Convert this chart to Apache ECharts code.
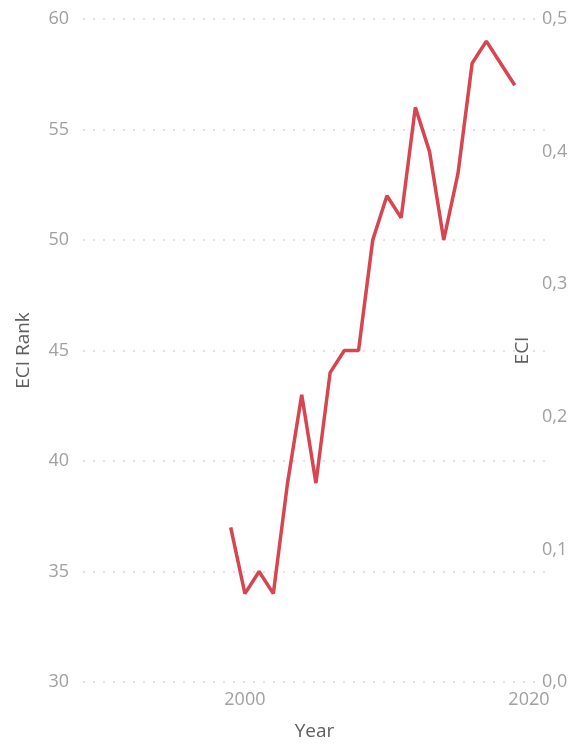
<!DOCTYPE html>
<html>
<head>
<meta charset="utf-8">
<script src="https://cdn.jsdelivr.net/npm/echarts@6/dist/echarts.min.js"></script>
<style>html,body{margin:0;padding:0;background:#fff;}#c{width:574px;height:744px;}</style>
</head>
<body>
<div id="c"></div>
<script>
var years = [1999, 2000, 2001, 2002, 2003, 2004, 2005, 2006, 2007, 2008, 2009, 2010, 2011, 2012, 2013, 2014, 2015, 2016, 2017, 2018, 2019];
var eciRank = [37, 34, 35, 34, 39, 43, 39, 44, 45, 45, 50, 52, 51, 56, 54, 50, 53, 58, 59, 58, 57];
var xTickLabels = [2000, 2020];
var rankTicks = [30, 60, 5];
var eciTicks = [0, 0.5, 0.1];

var chart = echarts.init(document.getElementById('c'));
var labelColor = '#a0a0a0';
var titleColor = '#605e5c';
var font = 'Segoe UI, "Open Sans", "Noto Sans", sans-serif';
chart.setOption({
  animation: false,
  grid: {left: 83, right: 28, top: 19, bottom: 62, outerBoundsMode: 'none', containLabel: false},
  xAxis: {
    type: 'value',
    min: 1988.6, max: 2021.2,
    name: 'Year', nameLocation: 'middle', nameGap: 40, nameMoveOverlap: false,
    nameTextStyle: {color: titleColor, fontSize: 19, fontFamily: font},
    axisLine: {show: false}, axisTick: {show: false}, splitLine: {show: false},
    axisLabel: {customValues: xTickLabels, color: labelColor, fontSize: 18, fontFamily: font, margin: 9,
      formatter: function (v) { return String(v); }}
  },
  yAxis: [{
    type: 'value',
    min: rankTicks[0], max: rankTicks[1], interval: rankTicks[2],
    name: 'ECI Rank', nameLocation: 'middle', nameGap: 50, nameRotate: 90, nameMoveOverlap: false,
    nameTextStyle: {color: titleColor, fontSize: 19, fontFamily: font},
    axisLine: {show: false}, axisTick: {show: false},
    axisLabel: {color: labelColor, fontSize: 18, fontFamily: font, margin: 14},
    splitLine: {show: true, lineStyle: {color: '#e2e2e2', width: 2, type: [2, 8]}}
  }, {
    type: 'value', position: 'right',
    min: eciTicks[0], max: eciTicks[1], interval: eciTicks[2],
    name: 'ECI', nameLocation: 'middle', nameGap: -33, nameRotate: 90, nameMoveOverlap: false,
    nameTextStyle: {color: titleColor, fontSize: 19, fontFamily: font},
    axisLine: {show: false}, axisTick: {show: false}, splitLine: {show: false},
    axisLabel: {color: labelColor, fontSize: 18, fontFamily: font, margin: -4, align: 'left',
      formatter: function (v) { return v.toFixed(1).replace('.', ','); }}
  }],
  series: [{
    type: 'line',
    yAxisIndex: 0,
    data: years.map(function (y, i) { return [y, eciRank[i]]; }),
    showSymbol: false,
    lineStyle: {color: '#d64550', width: 3.5},
    itemStyle: {color: '#d64550'}
  }]
});
</script>
</body>
</html>
